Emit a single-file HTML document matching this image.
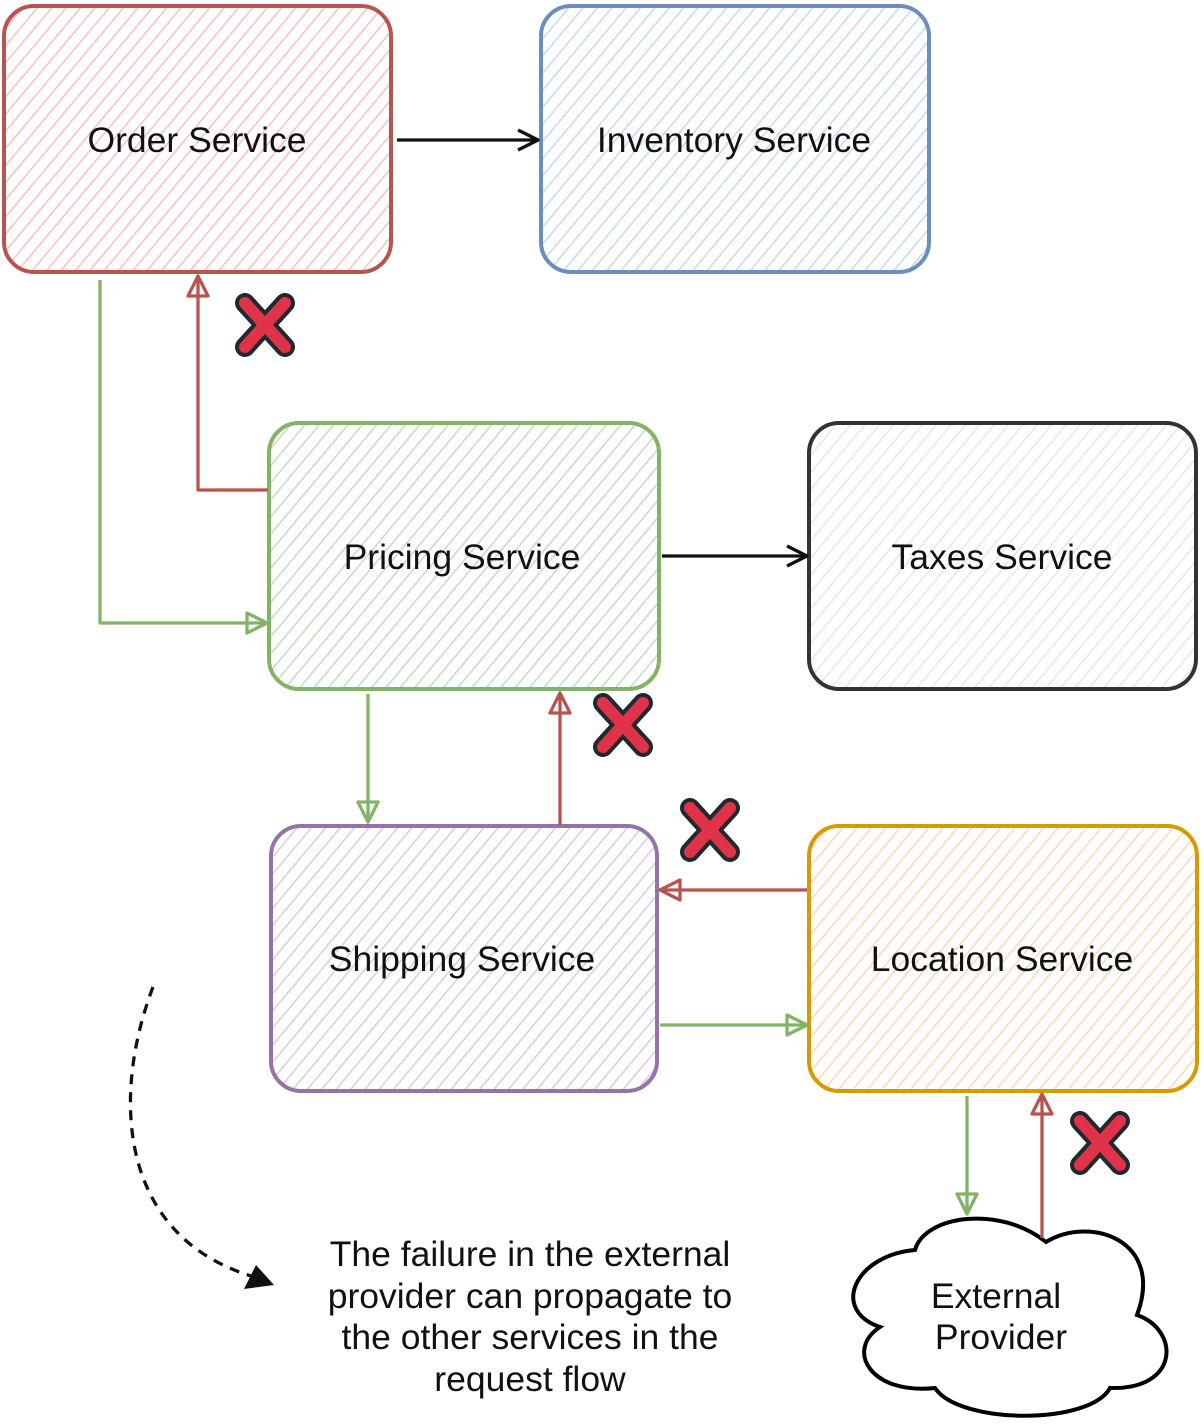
<!DOCTYPE html>
<html><head><meta charset="utf-8"><style>
html,body{margin:0;padding:0;background:#fff;}
svg{display:block;}
text{font-family:"Liberation Sans",sans-serif;font-size:35.5px;fill:#111;text-anchor:middle;}
</style></head><body>
<svg width="1204" height="1425" viewBox="0 0 1204 1425" xmlns="http://www.w3.org/2000/svg">
<defs>
<pattern id="hr" width="11" height="11" patternUnits="userSpaceOnUse" patternTransform="rotate(40)"><line x1="0" y1="0" x2="0" y2="11" stroke="#f6b8b6" stroke-width="2.6"/></pattern>
<pattern id="hb" width="11" height="11" patternUnits="userSpaceOnUse" patternTransform="rotate(40)"><line x1="0" y1="0" x2="0" y2="11" stroke="#bdd4f2" stroke-width="2.6"/></pattern>
<pattern id="hg" width="11" height="11" patternUnits="userSpaceOnUse" patternTransform="rotate(40)"><line x1="0" y1="0" x2="0" y2="11" stroke="#b8dab3" stroke-width="2.6"/></pattern>
<pattern id="hk" width="11" height="11" patternUnits="userSpaceOnUse" patternTransform="rotate(40)"><line x1="0" y1="0" x2="0" y2="11" stroke="#e2e2e2" stroke-width="2.6"/></pattern>
<pattern id="hp" width="11" height="11" patternUnits="userSpaceOnUse" patternTransform="rotate(40)"><line x1="0" y1="0" x2="0" y2="11" stroke="#d4c3e4" stroke-width="2.6"/></pattern>
<pattern id="ho" width="11" height="11" patternUnits="userSpaceOnUse" patternTransform="rotate(40)"><line x1="0" y1="0" x2="0" y2="11" stroke="#fcd3a8" stroke-width="2.6"/></pattern>
<g id="xm">
<path d="M-20,-22 L20,22 M20,-22 L-20,22" stroke="#1f2a2e" stroke-width="20" stroke-linecap="round" fill="none"/>
<path d="M-20,-22 L20,22 M20,-22 L-20,22" stroke="#e0334a" stroke-width="12" stroke-linecap="round" fill="none"/>
</g>
</defs>

<rect x="4" y="6" width="387" height="266" rx="30" fill="url(#hr)" stroke="#b85450" stroke-width="4"/>
<rect x="541" y="6" width="388" height="266" rx="30" fill="url(#hb)" stroke="#6c8ebf" stroke-width="4"/>
<rect x="269" y="423" width="390" height="266" rx="30" fill="url(#hg)" stroke="#82b366" stroke-width="4"/>
<rect x="809" y="423" width="387" height="266" rx="30" fill="url(#hk)" stroke="#333" stroke-width="4"/>
<rect x="271" y="826" width="386" height="265" rx="30" fill="url(#hp)" stroke="#9673a6" stroke-width="4"/>
<rect x="809" y="826" width="388" height="265" rx="30" fill="url(#ho)" stroke="#d79b00" stroke-width="4"/>

<text x="197" y="152">Order Service</text>
<text x="734" y="152">Inventory Service</text>
<text x="462" y="569">Pricing Service</text>
<text x="1002" y="569">Taxes Service</text>
<text x="462" y="971">Shipping Service</text>
<text x="1002" y="971">Location Service</text>

<path d="M915,1250 C925,1215 1000,1205 1046,1242 C1090,1215 1165,1240 1137,1315 C1180,1330 1180,1390 1110,1388 C1090,1425 960,1425 935,1388 C870,1395 845,1350 880,1327 C830,1310 855,1255 915,1250 Z" fill="#fff" stroke="#000" stroke-width="4"/>
<text x="996" y="1308">External</text>
<text x="1001" y="1349">Provider</text>

<g fill="none" stroke-width="3.3" stroke-linejoin="round">
<path d="M397,140 L536,140" stroke="#111"/>
<path d="M518,130 L538,140 L518,150" stroke="#111"/>
<path d="M662,556 L805,556" stroke="#111"/>
<path d="M787,546 L807,556 L787,566" stroke="#111"/>

<path d="M100,280 L100,623 L265,623" stroke="#82b366"/>
<path d="M247,613 L267,623 L247,633 Z" stroke="#82b366"/>
<path d="M368,694 L368,820" stroke="#82b366"/>
<path d="M358,802 L368,822 L378,802 Z" stroke="#82b366"/>
<path d="M660,1025 L805,1025" stroke="#82b366"/>
<path d="M787,1015 L807,1025 L787,1035 Z" stroke="#82b366"/>
<path d="M967,1096 L967,1212" stroke="#82b366"/>
<path d="M957,1194 L967,1214 L977,1194 Z" stroke="#82b366"/>

<path d="M268,490 L198,490 L198,278" stroke="#b85450"/>
<path d="M188,296 L198,276 L208,296 Z" stroke="#b85450"/>
<path d="M560,825 L560,695" stroke="#b85450"/>
<path d="M550,713 L560,693 L570,713 Z" stroke="#b85450"/>
<path d="M807,890 L662,890" stroke="#b85450"/>
<path d="M680,880 L660,890 L680,900 Z" stroke="#b85450"/>
<path d="M1042,1238 L1042,1096" stroke="#b85450"/>
<path d="M1032,1114 L1042,1094 L1052,1114 Z" stroke="#b85450"/>

<path d="M153,987 C110,1100 120,1240 258,1278" stroke="#111" stroke-dasharray="10,8"/>
</g>
<path d="M274,1285 L244,1289 L256,1265 Z" fill="#111"/>

<use href="#xm" x="265" y="325"/>
<use href="#xm" x="623" y="725"/>
<use href="#xm" x="710" y="830"/>
<use href="#xm" x="1100" y="1143"/>

<text x="530" y="1266">The failure in the external</text>
<text x="530" y="1308">provider can propagate to</text>
<text x="530" y="1349">the other services in the</text>
<text x="530" y="1391">request flow</text>
</svg>
</body></html>
